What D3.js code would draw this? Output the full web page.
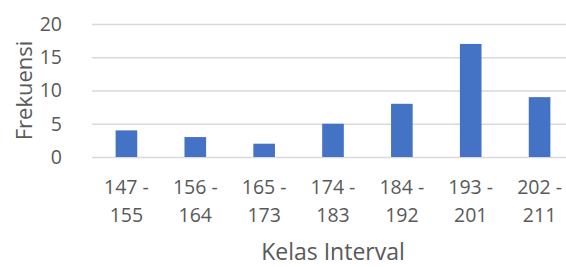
<!DOCTYPE html>
<html>
<head>
<meta charset="utf-8">
<script src="https://cdn.jsdelivr.net/npm/d3@7"></script>
<style>
    body { margin: 0; background: #fff; }
    svg { display: block; font-family: "Open Sans", sans-serif; }
    .tick text { fill: #595959; }
</style>
</head>
<body>
<div id="chart"></div>
<script>
    var categories = ['147 - 155', '156 - 164', '165 - 173', '174 - 183', '184 - 192', '193 - 201', '202 - 211'];
    var frekuensi = [4, 3, 2, 5, 8, 17, 9];
    var yTicks = [0, 5, 10, 15, 20];

    var W = 566, H = 267;
    var margin = {top: 24, left: 92, bottom: 110},
        width = 482,
        height = H - margin.top - margin.bottom;

    var svg = d3.select('#chart').append('svg')
        .attr('width', W)
        .attr('height', H);

    var x = d3.scaleBand()
        .domain(categories)
        .range([0, width])
        .paddingInner(0.686)
        .paddingOuter(0.343);

    var y = d3.scaleLinear()
        .domain([0, 20])
        .range([height, 0]);

    var g = svg.append('g')
        .attr('transform', 'translate(' + margin.left + ',' + margin.top + ')');

    // gridlines + y labels
    var yAxis = g.append('g')
        .call(d3.axisLeft(y).tickValues(yTicks).tickSize(-width).tickPadding(30));
    yAxis.select('.domain').remove();
    yAxis.selectAll('.tick line')
        .attr('stroke', '#d9d9d9')
        .attr('stroke-width', 1.3);
    yAxis.selectAll('.tick text')
        .style('font-size', '19.5px')
        .attr('font-family', 'Open Sans');

    g.selectAll('rect.bar')
        .data(frekuensi)
        .enter().append('rect')
        .attr('class', 'bar')
        .attr('x', function (d, i) { return x(categories[i]); })
        .attr('y', function (d) { return y(d); })
        .attr('width', x.bandwidth())
        .attr('height', function (d) { return height - y(d); })
        .attr('fill', '#4472c4');

    var xAxis = g.append('g')
        .attr('transform', 'translate(0,' + height + ')')
        .call(d3.axisBottom(x).tickSize(0));
    xAxis.select('.domain').remove();
    xAxis.selectAll('.tick text').each(function (d) {
        var parts = d.split(' - ');
        var t = d3.select(this).text(null)
            .attr('y', 0).attr('dy', null)
            .style('font-size', '19.5px')
            .attr('font-family', 'Open Sans');
        t.append('tspan').attr('x', 0).attr('y', 37).text(parts[0] + ' -');
        t.append('tspan').attr('x', 0).attr('y', 64.5).text(parts[1]);
    });

    svg.append('text')
        .attr('x', 333)
        .attr('y', 260)
        .attr('text-anchor', 'middle')
        .attr('fill', '#595959')
        .style('font-size', '23px')
        .text('Kelas Interval');

    svg.append('text')
        .attr('transform', 'translate(32,' + (margin.top + height / 2) + ') rotate(-90)')
        .attr('text-anchor', 'middle')
        .attr('fill', '#595959')
        .style('font-size', '22px')
        .text('Frekuensi');
</script>
</body>
</html>
